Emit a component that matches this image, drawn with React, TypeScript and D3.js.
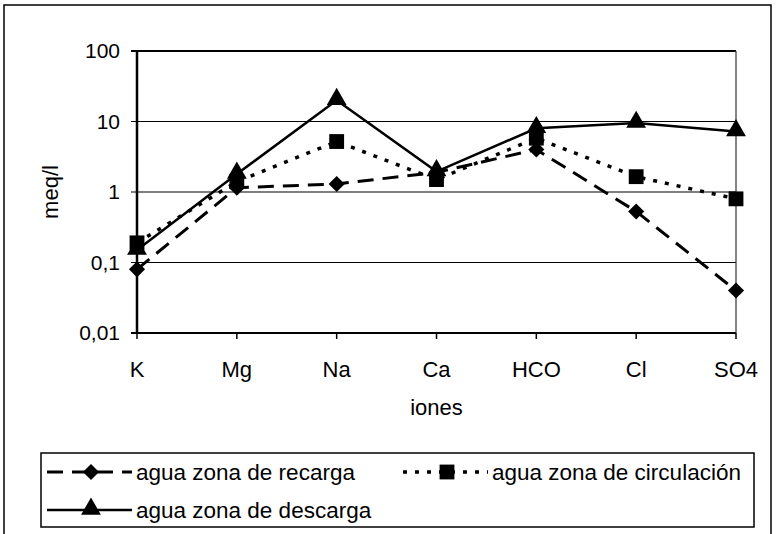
import React from "react";
import * as d3 from "d3";

const iones = ["K", "Mg", "Na", "Ca", "HCO", "Cl", "SO4"];
const recarga = [0.08, 1.15, 1.3, 1.9, 4, 0.53, 0.04];
const circulacion = [0.19, 1.4, 5.2, 1.5, 5.8, 1.65, 0.8];
const descarga = [0.15, 1.8, 20, 1.95, 8, 9.5, 7.2];
const yTicks = [100, 10, 1, 0.1, 0.01];
const yTickLabels = ["100", "10", "1", "0,1", "0,01"];

const W = 782;
const H = 534;
const FONT = "'Liberation Sans', Arial, sans-serif";

const series = [
  { name: "agua zona de recarga", values: recarga, dash: "16,9", width: 3, symbol: "diamond" },
  { name: "agua zona de circulación", values: circulacion, dash: "4,8", width: 3.5, symbol: "square" },
  { name: "agua zona de descarga", values: descarga, dash: null, width: 2.5, symbol: "triangle" },
];

function markerPath(kind: string) {
  if (kind === "diamond") return d3.symbol(d3.symbolSquare, 130)();
  if (kind === "square") return d3.symbol(d3.symbolSquare, 220)();
  return d3.symbol(d3.symbolTriangle, 170)();
}

function Marker({ kind, x, y }: { kind: string; x: number; y: number }) {
  const rot = kind === "diamond" ? " rotate(45)" : "";
  const dy = kind === "triangle" ? -1 : 0;
  return <path d={markerPath(kind) || ""} transform={`translate(${x},${y + dy})${rot}`} fill="#000" />;
}

export default function App() {
  const plot = { left: 137, right: 736, top: 51, bottom: 333 };
  const x = d3.scalePoint<string>().domain(iones).range([plot.left, plot.right]).padding(0);
  const y = d3.scaleLog().domain([0.01, 100]).range([plot.bottom, plot.top]);
  const line = d3.line<number>()
    .x((_, i) => x(iones[i]) as number)
    .y(d => y(d));

  const legendItems = [
    { s: series[0], lx: 47, ly: 472 },
    { s: series[1], lx: 403, ly: 472 },
    { s: series[2], lx: 47, ly: 510 },
  ];

  return (
    <svg width={W} height={H} style={{ position: "absolute", left: 0, top: 0, background: "#fff" }} fontFamily={FONT}>
      <rect x={4} y={5} width={767} height={540} fill="none" stroke="#000" strokeWidth={1.5} />

      {/* gridlines */}
      {yTicks.map(t => (
        <line key={"g" + t} x1={plot.left - 6} x2={plot.right} y1={y(t)} y2={y(t)} stroke="#000" strokeWidth={t === 100 || t === 0.01 ? 2 : 1.2} />
      ))}
      <line x1={plot.right} x2={plot.right} y1={plot.top} y2={plot.bottom} stroke="#333" strokeWidth={1.2} />
      <line x1={plot.left} x2={plot.left} y1={plot.top} y2={plot.bottom} stroke="#000" strokeWidth={2.5} />

      {/* y tick labels */}
      {yTicks.map((t, i) => (
        <text key={"yl" + t} x={120} y={y(t) + 7} fontSize={21} textAnchor="end" fill="#000">{yTickLabels[i]}</text>
      ))}
      <text transform={`translate(58,192) rotate(-90)`} fontSize={22} textAnchor="middle" fill="#000">meq/l</text>

      {/* x ticks and labels */}
      {iones.map(c => (
        <g key={c}>
          <line x1={x(c)} x2={x(c)} y1={plot.bottom} y2={plot.bottom + 6} stroke="#000" strokeWidth={1.5} />
          <text x={x(c)} y={377} fontSize={22} textAnchor="middle" fill="#000">{c}</text>
        </g>
      ))}
      <text x={(plot.left + plot.right) / 2} y={415} fontSize={22} textAnchor="middle" fill="#000">iones</text>

      {/* series */}
      {series.map(s => (
        <g key={s.name}>
          <path d={line(s.values) || ""} fill="none" stroke="#000" strokeWidth={s.width} strokeDasharray={s.dash || undefined} />
          {s.values.map((v, i) => (
            <Marker key={i} kind={s.symbol} x={x(iones[i]) as number} y={y(v)} />
          ))}
        </g>
      ))}

      {/* legend */}
      <rect x={41} y={453} width={713} height={74} fill="#fff" stroke="#000" strokeWidth={1.5} />
      {legendItems.map(({ s, lx, ly }) => (
        <g key={"lg" + s.name}>
          <line x1={lx} x2={lx + 85} y1={ly} y2={ly} stroke="#000" strokeWidth={s.width} strokeDasharray={s.dash || undefined} />
          <Marker kind={s.symbol} x={lx + 44} y={ly} />
          <text x={lx + 89} y={ly + 8} fontSize={22.5} fill="#000">{s.name}</text>
        </g>
      ))}
    </svg>
  );
}
